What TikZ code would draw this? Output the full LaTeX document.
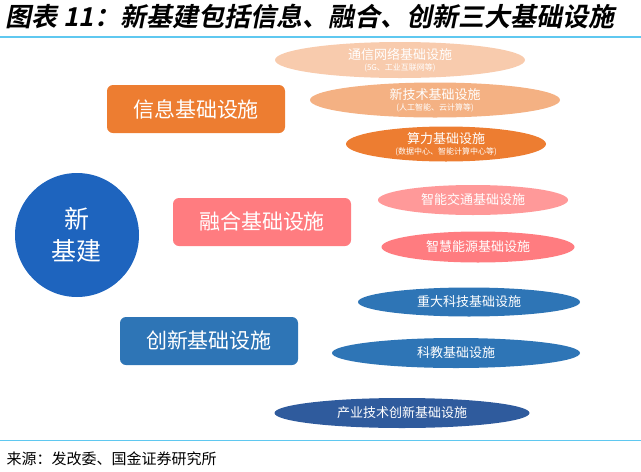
\documentclass[tikz,border=0pt]{standalone}
\usepackage{fontspec}
\newfontfamily\cjk{Noto Sans CJK SC}
\newfontfamily\cjkt[FakeSlant=0.2]{Noto Sans CJK SC Bold}
\newcommand\subtxt{\cjk\fontsize{8}{9}\selectfont}
\usetikzlibrary{shapes.geometric}
\definecolor{bline}{RGB}{95,200,240}
\definecolor{org}{RGB}{237,125,49}
\definecolor{org1}{RGB}{248,203,173}
\definecolor{org2}{RGB}{244,177,131}
\definecolor{pnk}{RGB}{255,124,128}
\definecolor{pnk1}{RGB}{255,153,153}
\definecolor{blu}{RGB}{46,117,182}
\definecolor{blu2}{RGB}{47,85,151}
\definecolor{circ}{RGB}{30,100,190}
\tikzset{
 box/.style={rectangle,rounded corners=6pt,minimum width=178pt,minimum height=48pt,text=white,font=\cjk\fontsize{21}{24}\selectfont},
 ell/.style={ellipse,inner sep=0pt,text=white,align=center,font=\cjk\fontsize{13}{14}\selectfont}
}
\begin{document}
\begin{tikzpicture}[x=1pt,y=-1pt]
\useasboundingbox (0,0) rectangle (641,472);
\node[anchor=west,font=\cjkt\fontsize{26}{28}\selectfont] (title) at (2,17) {图表 11：新基建包括信息、融合、创新三大基础设施};
\draw[bline,line width=2.5pt] (0,37) -- (641,37);
\draw[bline,line width=1pt] (0,440) -- (641,440);
\node[anchor=west,font=\cjk\fontsize{15}{17}\selectfont] (src) at (3,459) {来源：发改委、国金证券研究所};
\node[circle,fill=circ,minimum size=124pt,text=white,align=center,font=\cjk\fontsize{25}{32}\selectfont] (c) at (77,235) {新\\基建};
\node[box,fill=org] (b1) at (196,109) {信息基础设施};
\node[box,fill=pnk] (b2) at (262,222) {融合基础设施};
\node[box,fill=blu] (b3) at (209,341) {创新基础设施};
\node[ell,fill=org1,minimum width=250pt,minimum height=36pt] (e1) at (400,60) {通信网络基础设施\\[-3pt]{\subtxt(5G、工业互联网等)}};
\node[ell,fill=org2,minimum width=250pt,minimum height=35pt] (e2) at (435,100) {新技术基础设施\\[-3pt]{\subtxt(人工智能、云计算等)}};
\node[ell,fill=org,minimum width=200pt,minimum height=35pt] (e3) at (446,144) {算力基础设施\\[-3pt]{\subtxt(数据中心、智能计算中心等)}};
\node[ell,fill=pnk1,minimum width=190pt,minimum height=30pt] (e4) at (473,200) {智能交通基础设施};
\node[ell,fill=pnk,minimum width=193pt,minimum height=31pt] (e5) at (478,247) {智慧能源基础设施};
\node[ell,fill=blu,minimum width=222pt,minimum height=29pt] (e6) at (469,302) {重大科技基础设施};
\node[ell,fill=blu,minimum width=248pt,minimum height=30pt] (e7) at (456,353) {科教基础设施};
\node[ell,fill=blu2!80!blu,minimum width=255pt,minimum height=30pt] (e8) at (402,413) {产业技术创新基础设施};
\end{tikzpicture}
\end{document}
